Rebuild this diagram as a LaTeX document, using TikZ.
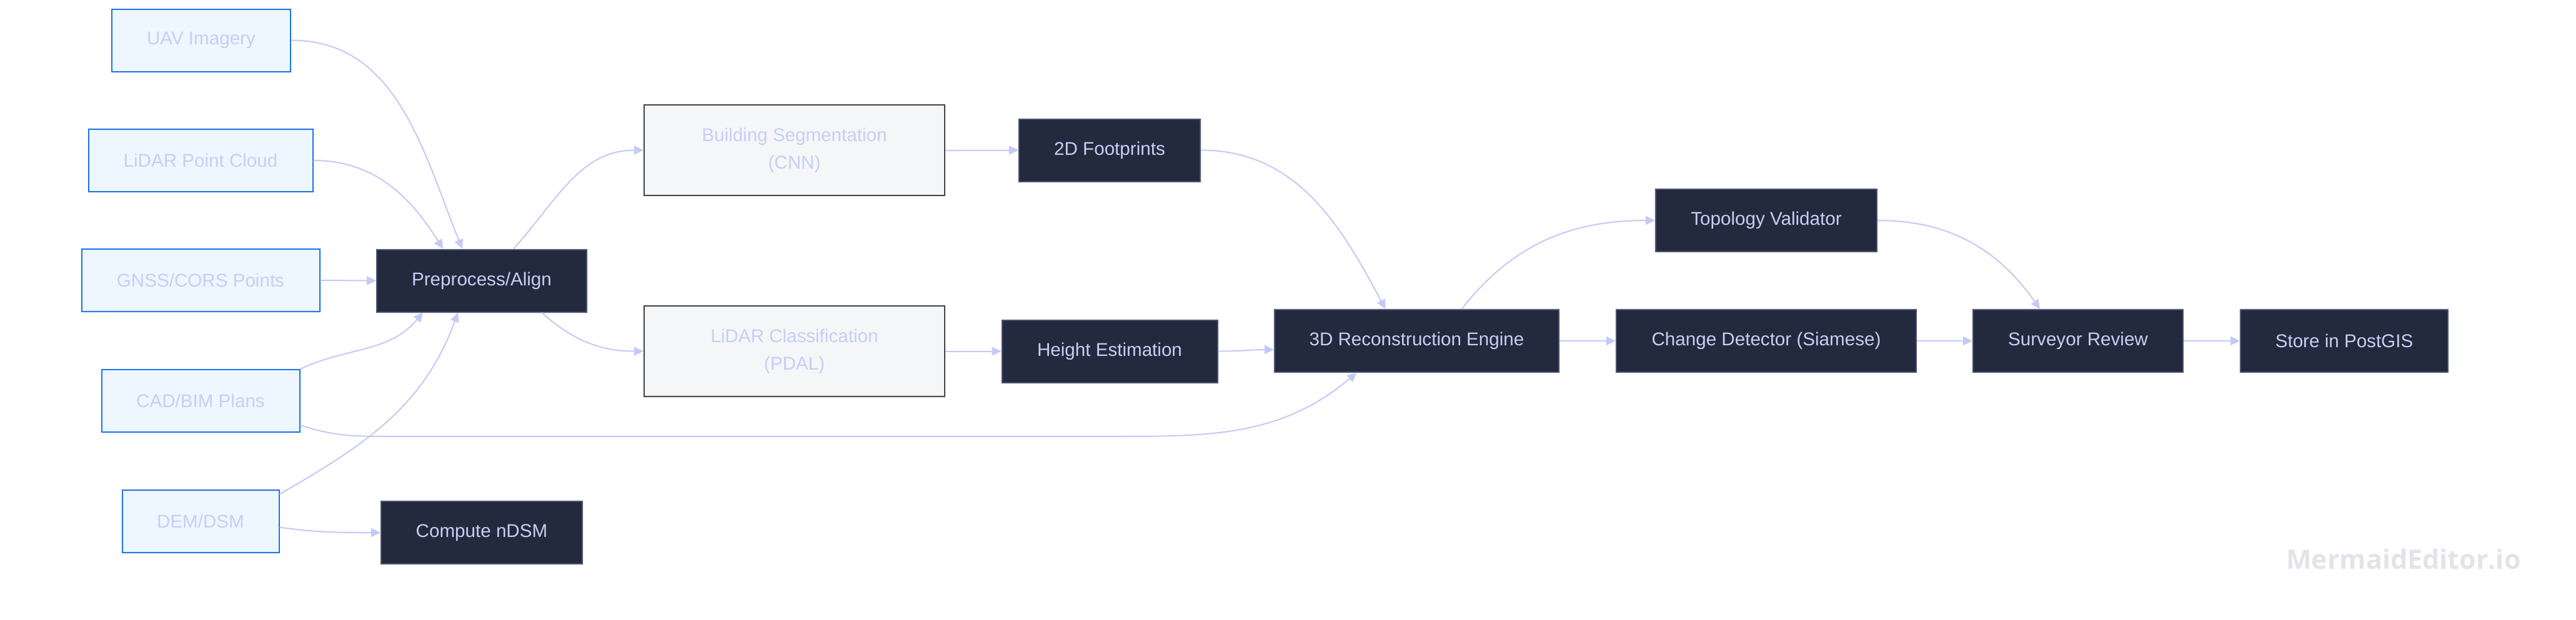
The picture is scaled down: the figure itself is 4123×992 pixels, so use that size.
\documentclass[tikz,border=0pt]{standalone}
\usepackage{fontspec}
\setmainfont{Liberation Sans}
\newfontfamily\wmfont{Open Sans}
\usetikzlibrary{arrows.meta}
\definecolor{srcfill}{HTML}{EEF7FF}
\definecolor{srcline}{HTML}{1A73E8}
\definecolor{txt}{HTML}{C8CEF5}
\definecolor{darkfill}{HTML}{232A3D}
\definecolor{darkline}{HTML}{4B5275}
\definecolor{grayfill}{HTML}{F5F6F8}
\definecolor{grayline}{HTML}{444444}
\definecolor{wire}{HTML}{C3CAF5}
\definecolor{wm}{HTML}{E3E4EA}

\begin{document}
\begin{tikzpicture}[x=0.5pt,y=0.5pt]
  \tikzstyle{base}=[rectangle, draw, line width=1pt, text=txt, inner sep=0pt, minimum height=50pt, font=\fontsize{14.8}{22}\selectfont, align=center]
  \tikzstyle{src}=[base, fill=srcfill, draw=srcline]
  \tikzstyle{gry}=[base, fill=grayfill, draw=grayline, minimum width=240.5pt, minimum height=72.5pt]
  \tikzstyle{drk}=[base, fill=darkfill, draw=darkline]
  \tikzstyle{flow}=[draw=wire, line width=1pt, -{Triangle[length=7.5pt,width=7pt]}]

  \useasboundingbox (0,0) rectangle (4123,-992);

  \node[src, minimum width=143pt]   (uav)  at (322,-64.5) {UAV Imagery};
  \node[src, minimum width=179.5pt] (pc)   at (321,-257) {LiDAR Point Cloud};
  \node[src, minimum width=190.5pt] (gnss) at (321,-449) {GNSS/CORS Points};
  \node[src, minimum width=158.5pt] (cad)  at (321,-642) {CAD/BIM Plans};
  \node[src, minimum width=125.5pt] (dem)  at (321,-834.5) {DEM/DSM};

  \node[drk, minimum width=168pt] (pre)  at (771,-449.5) {Preprocess/Align};
  \node[drk, minimum width=161pt] (ndsm) at (771,-853) {Compute nDSM};

  \node[gry] (seg) at (1271.5,-240.5) {Building Segmentation\\(CNN)};
  \node[gry] (cls) at (1271.5,-562.5) {LiDAR Classification\\(PDAL)};

  \node[drk, minimum width=145pt]   (foot)  at (1776,-240.5) {2D Footprints};
  \node[drk, minimum width=172.5pt] (hgt)   at (1776,-562.5) {Height Estimation};
  \node[drk, minimum width=227.5pt] (rec)   at (2267.5,-546) {3D Reconstruction Engine};
  \node[drk, minimum width=177pt]   (topo)  at (2827,-353) {Topology Validator};
  \node[drk, minimum width=240pt]   (chg)   at (2827,-546) {Change Detector (Siamese)};
  \node[drk, minimum width=168pt]   (rev)   at (3326,-546) {Surveyor Review};
  \node[drk, minimum width=166pt]   (store) at (3752,-546) {Store in PostGIS};

  \node[text=wm, font=\wmfont\bfseries\fontsize{21.5}{26}\selectfont] (wm) at (3847,-895) {MermaidEditor.io};

  \coordinate (c1) at (620,-699);
  \coordinate (c2) at (1780,-699);

  \draw[flow] (uav.east) to[out=0,in=112] ([xshift=-15.5pt]pre.north);
  \draw[flow] (pc.east) to[out=0,in=122] ([xshift=-31pt]pre.north);
  \draw[flow] (gnss.east) -- (pre.west);
  \draw[flow] (cad.north east) to[out=25,in=230] ([xshift=-47pt]pre.south);
  \draw[flow] ([yshift=-4pt]dem.north east) to[out=30,in=250] ([xshift=-19pt]pre.south);
  \draw[flow] ([yshift=-5pt]dem.east) to[out=-8,in=180] (ndsm.west);
  \draw[flow] ([xshift=25.5pt]pre.north) to[out=48,in=180] (seg.west);
  \draw[flow] ([xshift=48pt]pre.south) to[out=-42,in=180] (cls.west);
  \draw[flow] (seg.east) -- (foot.west);
  \draw[flow] (cls.east) -- (hgt.west);
  \draw[flow] (foot.east) to[out=0,in=118] ([xshift=-25pt]rec.north);
  \draw[flow] (hgt.east) to[out=0,in=180] ([yshift=-7pt]rec.west);
  \draw[flow] ([yshift=-19.5pt]cad.east) to[out=-18,in=180] (c1) -- (c2) to[out=0,in=220] ([xshift=-48pt]rec.south);
  \draw[flow] ([xshift=36pt]rec.north) to[out=52,in=180] (topo.west);
  \draw[flow] (rec.east) -- (chg.west);
  \draw[flow] (topo.east) to[out=0,in=125] ([xshift=-30.5pt]rev.north);
  \draw[flow] (chg.east) -- (rev.west);
  \draw[flow] (rev.east) -- (store.west);
\end{tikzpicture}
\end{document}
